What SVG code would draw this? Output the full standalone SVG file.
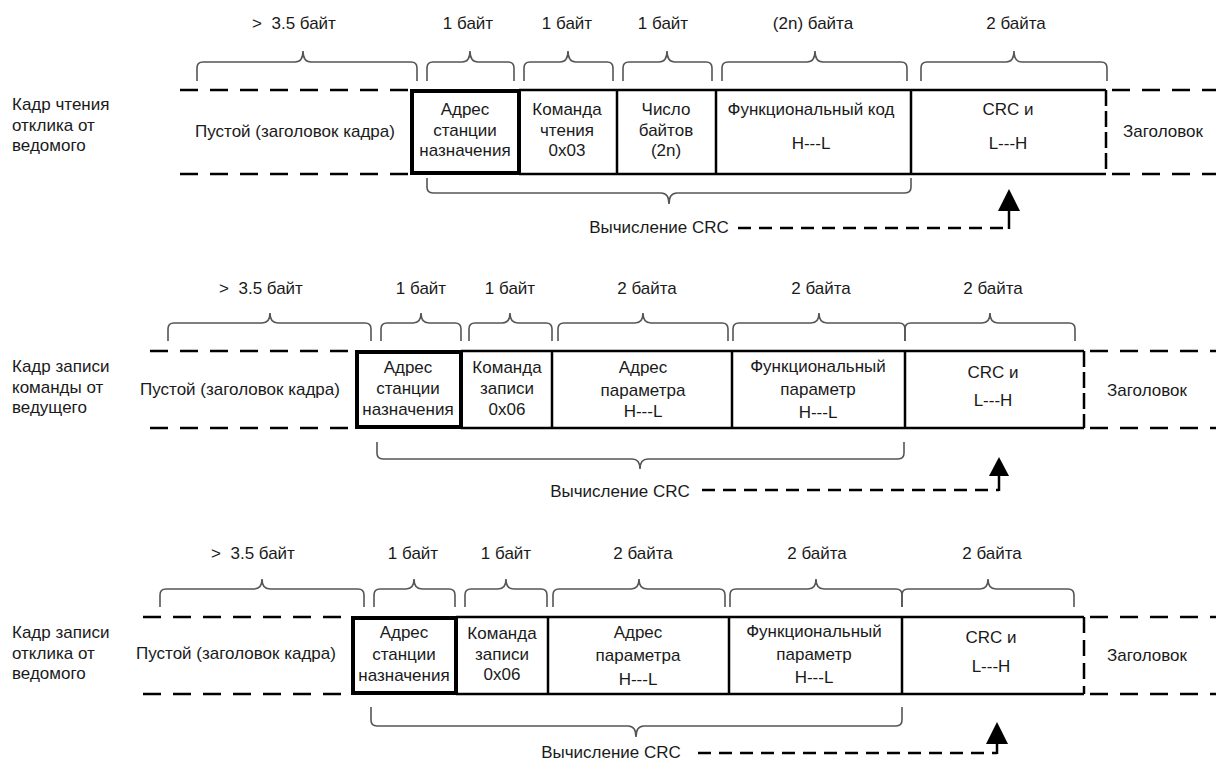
<svg xmlns="http://www.w3.org/2000/svg" width="1216" height="762" viewBox="0 0 1216 762">
<defs>
<style>
.t{font-family:"Liberation Sans",Arial,sans-serif;font-size:17px;fill:#1a1a1a}
.m{text-anchor:middle}
.ln{fill:none;stroke:#000;stroke-width:2.5}
.thick{fill:none;stroke:#000;stroke-width:4}
.dash{fill:none;stroke:#000;stroke-width:2.5;stroke-dasharray:18 12}
.vdash{fill:none;stroke:#000;stroke-width:2.5;stroke-dasharray:16 5}
.brace{fill:none;stroke:#555;stroke-width:1.6}
.conn{fill:none;stroke:#000;stroke-width:2.5;stroke-dasharray:13 8}
.shaft{fill:none;stroke:#000;stroke-width:2.5}
</style>
</defs>
<rect width="1216" height="762" fill="#fff"/>

<!-- ===== Frame 1 ===== -->
<g id="frame1-label"><text class="t" x="12" y="110">Кадр чтения</text><text class="t" x="12" y="131">отклика от</text><text class="t" x="12" y="151">ведомого</text></g>
<g id="frame1-sizes">
<text class="t m" x="294" y="29" xml:space="preserve">&gt;  3.5 байт</text>
<text class="t m" x="468" y="29">1 байт</text>
<text class="t m" x="567" y="29">1 байт</text>
<text class="t m" x="663" y="29">1 байт</text>
<text class="t m" x="813" y="29">(2n) байта</text>
<text class="t m" x="1016" y="29">2 байта</text>
<path class="brace" d="M197 81 V68 Q197 62 203 62 H295 Q303 62 303 51 Q303 62 311 62 H411 Q417 62 417 68 V81"/>
<path class="brace" d="M427 81 V68 Q427 62 433 62 H462 Q470 62 470 51 Q470 62 478 62 H508 Q514 62 514 68 V81"/>
<path class="brace" d="M524 81 V68 Q524 62 530 62 H560 Q568 62 568 51 Q568 62 576 62 H607 Q613 62 613 68 V81"/>
<path class="brace" d="M623 81 V68 Q623 62 629 62 H659 Q667 62 667 51 Q667 62 675 62 H706 Q712 62 712 68 V81"/>
<path class="brace" d="M722 81 V68 Q722 62 728 62 H807 Q815 62 815 51 Q815 62 823 62 H901 Q907 62 907 68 V81"/>
<path class="brace" d="M921 81 V68 Q921 62 927 62 H1006 Q1014 62 1014 51 Q1014 62 1022 62 H1101 Q1107 62 1107 68 V81"/>
</g>
<g id="frame1-empty"><path class="dash" d="M180 90 H410 M180 174 H410"/><text class="t m" x="295" y="137">Пустой (заголовок кадра)</text></g>
<g id="frame1-addr"><rect class="thick" x="412" y="91" width="107" height="82"/><text class="t m" x="465" y="115">Адрес</text><text class="t m" x="465" y="135.5">станции</text><text class="t m" x="465" y="156">назначения</text></g>
<g id="frame1-cmd"><path class="ln" d="M519 90 H617 M519 174 H617 M617 90 V174"/><text class="t m" x="567" y="115">Команда</text><text class="t m" x="567" y="135.5">чтения</text><text class="t m" x="567" y="156">0x03</text></g>
<g id="frame1-count"><path class="ln" d="M617 90 H716 M617 174 H716 M716 90 V174"/><text class="t m" x="666" y="115">Число</text><text class="t m" x="666" y="135.5">байтов</text><text class="t m" x="666" y="156">(2n)</text></g>
<g id="frame1-func"><path class="ln" d="M716 90 H911 M716 174 H911 M911 90 V174"/><text class="t m" x="811" y="115">Функциональный код</text><text class="t m" x="811" y="149">H---L</text></g>
<g id="frame1-crc"><path class="ln" d="M911 90 H1106 M911 174 H1106"/><path class="vdash" d="M1106 90 V174"/><text class="t m" x="1008" y="115">CRC и</text><text class="t m" x="1008" y="149">L---H</text></g>
<g id="frame1-header"><path class="dash" d="M1112 90 H1216 M1112 174 H1216"/><text class="t m" x="1163" y="137">Заголовок</text></g>
<g id="frame1-crccalc"><path class="brace" d="M427 178 V187 Q427 193 433 193 H661 Q669 193 669 204 Q669 193 677 193 H905 Q911 193 911 187 V178"/><text class="t m" x="659" y="233">Вычисление CRC</text></g>

<!-- ===== Frame 2 ===== -->
<g id="frame2-label"><text class="t" x="12" y="372">Кадр записи</text><text class="t" x="12" y="393">команды от</text><text class="t" x="12" y="413">ведущего</text></g>
<g id="frame2-sizes">
<text class="t m" x="261" y="294" xml:space="preserve">&gt;  3.5 байт</text>
<text class="t m" x="421" y="294">1 байт</text>
<text class="t m" x="510" y="294">1 байт</text>
<text class="t m" x="647" y="294">2 байта</text>
<text class="t m" x="821" y="294">2 байта</text>
<text class="t m" x="993" y="294">2 байта</text>
<path class="brace" d="M168 341 V329 Q168 323 174 323 H262 Q270 323 270 313 Q270 323 278 323 H365 Q371 323 371 329 V341"/>
<path class="brace" d="M381 341 V329 Q381 323 387 323 H413 Q421 323 421 313 Q421 323 429 323 H455 Q461 323 461 329 V341"/>
<path class="brace" d="M469 341 V329 Q469 323 475 323 H502 Q510 323 510 313 Q510 323 518 323 H546 Q552 323 552 329 V341"/>
<path class="brace" d="M558 341 V329 Q558 323 564 323 H635 Q643 323 643 313 Q643 323 651 323 H722 Q728 323 728 329 V341"/>
<path class="brace" d="M733 341 V329 Q733 323 739 323 H811 Q819 323 819 313 Q819 323 827 323 H899 Q905 323 905 329 V341"/>
<path class="brace" d="M905 341 V329 Q905 323 911 323 H982 Q990 323 990 313 Q990 323 998 323 H1069 Q1075 323 1075 329 V341"/>
</g>
<g id="frame2-empty"><path class="dash" d="M150 351 H355 M150 428 H355"/><text class="t m" x="240" y="395">Пустой (заголовок кадра)</text></g>
<g id="frame2-addr"><rect class="thick" x="357" y="352" width="104" height="75"/><text class="t m" x="408" y="373">Адрес</text><text class="t m" x="408" y="394">станции</text><text class="t m" x="408" y="415">назначения</text></g>
<g id="frame2-cmd"><path class="ln" d="M461 351 H552 M461 428 H552 M552 351 V428"/><text class="t m" x="507" y="373">Команда</text><text class="t m" x="507" y="394">записи</text><text class="t m" x="507" y="415">0x06</text></g>
<g id="frame2-paddr"><path class="ln" d="M552 351 H732 M552 428 H732 M732 351 V428"/><text class="t m" x="643" y="373">Адрес</text><text class="t m" x="643" y="396">параметра</text><text class="t m" x="643" y="417">H---L</text></g>
<g id="frame2-pval"><path class="ln" d="M732 351 H905 M732 428 H905 M905 351 V428"/><text class="t m" x="818" y="372">Функциональный</text><text class="t m" x="818" y="395">параметр</text><text class="t m" x="818" y="418">H---L</text></g>
<g id="frame2-crc"><path class="ln" d="M905 351 H1084 M905 428 H1084"/><path class="vdash" d="M1084 351 V428"/><text class="t m" x="993" y="378">CRC и</text><text class="t m" x="993" y="406">L---H</text></g>
<g id="frame2-header"><path class="dash" d="M1090 351 H1216 M1090 428 H1216"/><text class="t m" x="1147" y="396">Заголовок</text></g>
<g id="frame2-crccalc"><path class="brace" d="M377 442 V453 Q377 459 383 459 H632 Q640 459 640 469 Q640 459 648 459 H898 Q904 459 904 453 V442"/><text class="t m" x="620" y="497">Вычисление CRC</text></g>

<!-- ===== Frame 3 ===== -->
<g id="frame3-label"><text class="t" x="12" y="638">Кадр записи</text><text class="t" x="12" y="659">отклика от</text><text class="t" x="12" y="679">ведомого</text></g>
<g id="frame3-sizes">
<text class="t m" x="253" y="559" xml:space="preserve">&gt;  3.5 байт</text>
<text class="t m" x="413" y="559">1 байт</text>
<text class="t m" x="506" y="559">1 байт</text>
<text class="t m" x="643" y="559">2 байта</text>
<text class="t m" x="817" y="559">2 байта</text>
<text class="t m" x="992" y="559">2 байта</text>
<path class="brace" d="M160 607 V595 Q160 589 166 589 H254 Q262 589 262 579 Q262 589 270 589 H358 Q364 589 364 595 V607"/>
<path class="brace" d="M374 607 V595 Q374 589 380 589 H406 Q414 589 414 579 Q414 589 422 589 H449 Q455 589 455 595 V607"/>
<path class="brace" d="M465 607 V595 Q465 589 471 589 H498 Q506 589 506 579 Q506 589 514 589 H541 Q547 589 547 595 V607"/>
<path class="brace" d="M553 607 V595 Q553 589 559 589 H631 Q639 589 639 579 Q639 589 647 589 H719 Q725 589 725 595 V607"/>
<path class="brace" d="M730 607 V595 Q730 589 736 589 H808 Q816 589 816 579 Q816 589 824 589 H896 Q902 589 902 595 V607"/>
<path class="brace" d="M902 607 V595 Q902 589 908 589 H980 Q988 589 988 579 Q988 589 996 589 H1068 Q1074 589 1074 595 V607"/>
</g>
<g id="frame3-empty"><path class="dash" d="M143 617 H351 M143 694 H351"/><text class="t m" x="236" y="659">Пустой (заголовок кадра)</text></g>
<g id="frame3-addr"><rect class="thick" x="353" y="618" width="103" height="75"/><text class="t m" x="404" y="638">Адрес</text><text class="t m" x="404" y="660">станции</text><text class="t m" x="404" y="681">назначения</text></g>
<g id="frame3-cmd"><path class="ln" d="M456 617 H548 M456 694 H548 M548 617 V694"/><text class="t m" x="502" y="639">Команда</text><text class="t m" x="502" y="660">записи</text><text class="t m" x="502" y="680">0x06</text></g>
<g id="frame3-paddr"><path class="ln" d="M548 617 H729 M548 694 H729 M729 617 V694"/><text class="t m" x="638" y="638">Адрес</text><text class="t m" x="638" y="661">параметра</text><text class="t m" x="638" y="685">H---L</text></g>
<g id="frame3-pval"><path class="ln" d="M729 617 H902 M729 694 H902 M902 617 V694"/><text class="t m" x="814" y="637">Функциональный</text><text class="t m" x="814" y="660">параметр</text><text class="t m" x="814" y="683">H---L</text></g>
<g id="frame3-crc"><path class="ln" d="M902 617 H1084 M902 694 H1084"/><path class="vdash" d="M1084 617 V694" style="stroke-dasharray:16 7"/><text class="t m" x="991" y="643">CRC и</text><text class="t m" x="991" y="672">L---H</text></g>
<g id="frame3-header"><path class="dash" d="M1090 617 H1216 M1090 694 H1216"/><text class="t m" x="1147" y="661">Заголовок</text></g>
<g id="frame3-crccalc"><path class="brace" d="M371 707 V720 Q371 726 377 726 H628 Q636 726 636 737 Q636 726 644 726 H896 Q902 726 902 720 V707"/><text class="t m" x="611" y="758">Вычисление CRC</text></g>

<!-- ===== Connectors ===== -->
<g id="connectors">
<path class="conn" d="M738 228 H1009"/>
<path class="shaft" d="M1009 229 V208"/>
<path d="M998 211 L1009 189 L1020 211 z" fill="#000"/>
<path class="conn" d="M702 490 H999"/>
<path class="shaft" d="M999 491 V473"/>
<path d="M989 476 L999 457 L1009 476 z" fill="#000"/>
<path class="conn" d="M698 753 H997"/>
<path class="shaft" d="M997 754 V740"/>
<path d="M986 744 L997 722 L1008 744 z" fill="#000"/>
</g>
</svg>
